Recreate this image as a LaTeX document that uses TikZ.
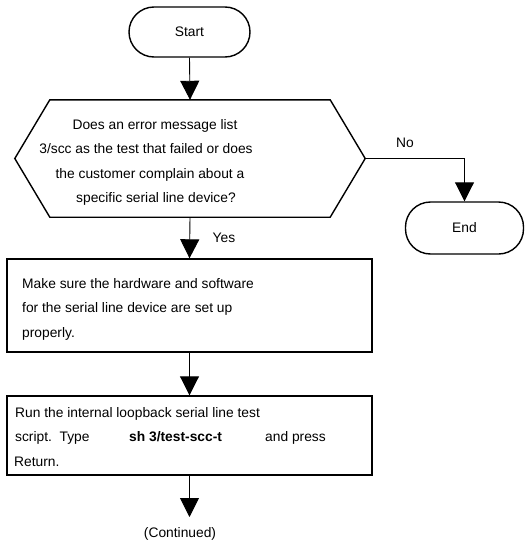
\documentclass[tikz,border=0pt]{standalone}
\usepackage{fontspec}
\setmainfont{Liberation Sans}
\usetikzlibrary{arrows.meta,calc}
\begin{document}
\begin{tikzpicture}[x=1pt,y=-1pt,
  every node/.style={font=\fontsize{13.8}{16}\selectfont, inner sep=0pt},
  term/.style={draw, line width=1.4pt, rounded corners=25pt, minimum height=50pt},
  procbox/.style={draw, line width=1.4pt, minimum width=365pt},
  flow/.style={line width=0.9pt, -{Triangle[length=19pt,width=19pt]}},
  txt/.style={anchor=base west},
  ctxt/.style={anchor=base}]
\useasboundingbox (0,0) rectangle (526,546);
% terminators
\node[term, minimum width=121pt] (start) at (189.5,32) {Start};
\node[term, minimum width=118pt, minimum height=52pt] (end) at (464.5,228) {End};
% decision
\node[minimum width=350pt, minimum height=117pt] (dec) at (190,158.5) {};
\draw[line width=1.4pt] ($(dec.north west)+(35,0)$) -- ($(dec.north east)+(-35,0)$) -- (dec.east)
  -- ($(dec.south east)+(-35,0)$) -- ($(dec.south west)+(35,0)$) -- (dec.west) -- cycle;
\node[ctxt] (d1) at (155,129) {Does an error message list};
\node[ctxt] (d2) at (146,153) {3/scc as the test that failed or does};
\node[ctxt] (d3) at (150,178) {the customer complain about a};
\node[ctxt] (d4) at (156,202) {specific serial line device?};
% process boxes
\node[procbox, minimum height=93pt] (box1) at (189.5,305.5) {};
\node[txt] (b1a) at (22,288) {Make sure the hardware and software};
\node[txt] (b1b) at (22,312) {for the serial line device are set up};
\node[txt] (b1c) at (22,337) {properly.};
\node[procbox, minimum height=79pt] (box2) at (189.5,435.5) {};
\node[txt] (b2a) at (15,417) {Run the internal loopback serial line test};
\node[txt] (b2b) at (15,441) {\makebox[114pt][l]{script.\ \ Type}\makebox[136pt][l]{\textbf{sh 3/test-scc-t}}and press};
\node[txt] (b2c) at (14,466) {Return.};
% connectors
\draw[flow] (start.south) -- (dec.north);
\draw[flow] (dec.south) -- (box1.north);
\draw[flow] (box1.south) -- (box2.north);
\draw[flow] (dec.east) -| (end.north);
\coordinate (cont) at (189.5,517);
\draw[flow] (box2.south) -- (cont);
% labels
\node (nolbl) at (405,143) {No};
\node (yeslbl) at (224,238) {Yes};
\node (contlbl) at (180,534) {(Continued)};
\end{tikzpicture}
\end{document}
